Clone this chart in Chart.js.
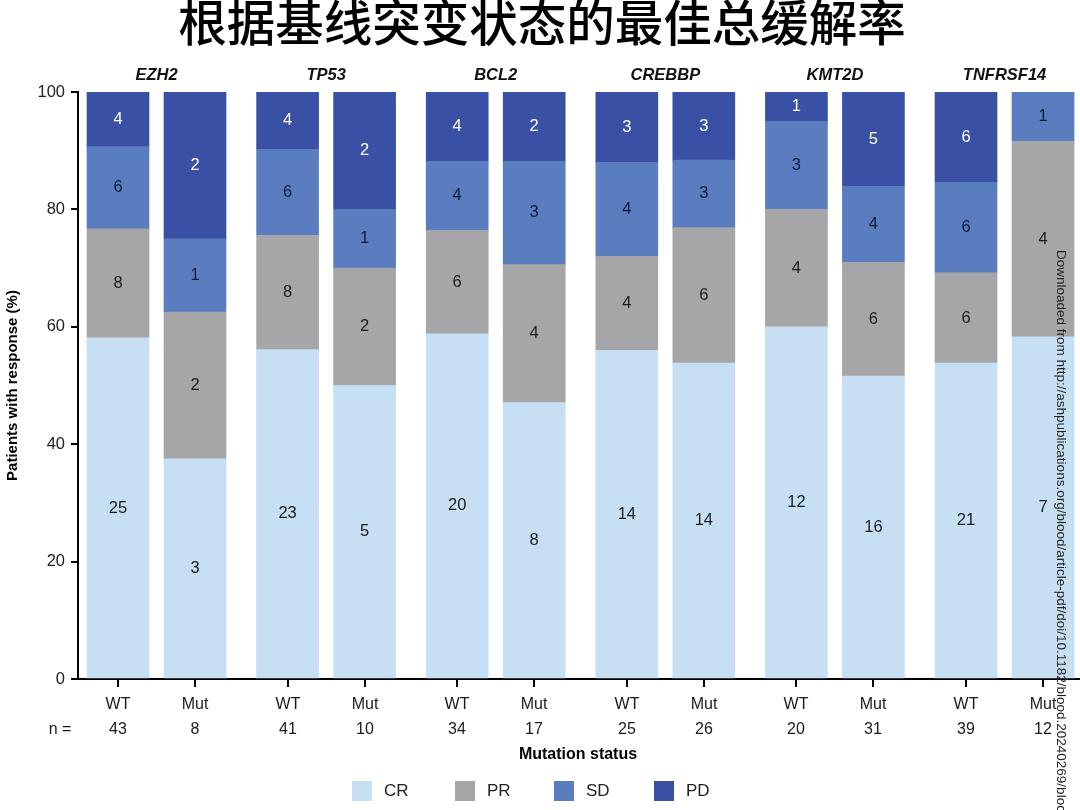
<!DOCTYPE html>
<html>
<head>
<meta charset="utf-8">
<script src="https://cdn.jsdelivr.net/npm/chart.js@4.4.1/dist/chart.umd.min.js"></script>
<style>
  html, body { margin: 0; padding: 0; background: #ffffff; overflow: hidden; }
  #wrap { position: relative; width: 1080px; height: 810px; }
</style>
</head>
<body>
<div id="wrap"><canvas id="c" width="1080" height="810"></canvas></div>
<script>
// ---------- data ----------
const titleText = '根据基线突变状态的最佳总缓解率';
const genes = ['EZH2', 'TP53', 'BCL2', 'CREBBP', 'KMT2D', 'TNFRSF14'];
const statuses = ['WT', 'Mut', 'WT', 'Mut', 'WT', 'Mut', 'WT', 'Mut', 'WT', 'Mut', 'WT', 'Mut'];
const nValues = [43, 8, 41, 10, 34, 17, 25, 26, 20, 31, 39, 12];
const seriesNames = ['CR', 'PR', 'SD', 'PD'];

// percentages (%)
const crPct = [58.1, 37.5, 56.1, 50.0, 58.8, 47.1, 56.0, 53.8, 60.0, 51.6, 53.8, 58.3];
const prPct = [18.6, 25.0, 19.5, 20.0, 17.6, 23.5, 16.0, 23.1, 20.0, 19.4, 15.4, 33.3];
const sdPct = [14.0, 12.5, 14.6, 10.0, 11.8, 17.6, 16.0, 11.5, 15.0, 12.9, 15.4, 8.4];
const pdPct = [9.3, 25.0, 9.8, 20.0, 11.8, 11.8, 12.0, 11.6, 5.0, 16.1, 15.4, 0];

// patient counts shown inside segments
const crCount = [25, 3, 23, 5, 20, 8, 14, 14, 12, 16, 21, 7];
const prCount = [8, 2, 8, 2, 6, 4, 4, 6, 4, 6, 6, 4];
const sdCount = [6, 1, 6, 1, 4, 3, 4, 3, 3, 4, 6, 1];
const pdCount = [4, 2, 4, 2, 4, 2, 3, 3, 1, 5, 6, 0];

const yTicks = [0, 20, 40, 60, 80, 100];
const watermark = 'Downloaded from http://ashpublications.org/blood/article-pdf/doi/10.1182/blood.20240269/bloc';

// ---------- styling / layout ----------
const colors = ['#c6dff2', '#a6a6a8', '#5a7dc0', '#3a50a4'];
const labelColors = ['#1a1a1a', '#1a1a1a', '#0f1d3a', '#ffffff'];
const FONT = '"Liberation Sans", Arial, Helvetica, sans-serif';
const MUT_OFFSET = 0.454;   // position of Mut bar within a gene group (group units)

function xPos(i) { return Math.floor(i / 2) + (i % 2) * MUT_OFFSET; }
function pts(arr) { return arr.map((v, i) => ({ x: xPos(i), y: v })); }

const pctSeries = [crPct, prPct, sdPct, pdPct];
const cntSeries = [crCount, prCount, sdCount, pdCount];

const datasets = seriesNames.map((name, k) => ({
  label: name,
  data: pts(pctSeries[k]),
  backgroundColor: colors[k],
  borderWidth: 0,
  barThickness: 62
}));

const annotate = {
  id: 'annotate',
  afterDatasetsDraw(chart) {
    const ctx = chart.ctx;
    ctx.save();
    ctx.font = '16.5px ' + FONT;
    ctx.textAlign = 'center';
    ctx.textBaseline = 'middle';
    chart.data.datasets.forEach((ds, k) => {
      const meta = chart.getDatasetMeta(k);
      meta.data.forEach((bar, i) => {
        const c = cntSeries[k][i];
        if (!c) return;
        const p = bar.getProps(['x', 'y', 'base'], true);
        ctx.fillStyle = labelColors[k];
        ctx.fillText(String(c), p.x, (p.y + p.base) / 2);
      });
    });
    ctx.restore();
  },
  afterDraw(chart) {
    const ctx = chart.ctx;
    const xs = chart.scales.x;
    const area = chart.chartArea;
    ctx.save();
    // title
    ctx.fillStyle = '#000';
    ctx.textAlign = 'center';
    ctx.textBaseline = 'middle';
    ctx.font = '500 48.5px "Noto Sans CJK SC", sans-serif';
    ctx.fillText(titleText, 542, 23);

    // gene labels
    ctx.fillStyle = '#111';
    ctx.font = 'italic bold 16.5px ' + FONT;
    genes.forEach((g, j) => {
      const cx = (xs.getPixelForValue(xPos(2 * j)) + xs.getPixelForValue(xPos(2 * j + 1))) / 2;
      ctx.fillText(g, cx, 75);
    });

    // x tick marks and labels
    ctx.strokeStyle = '#000';
    ctx.lineWidth = 2;
    ctx.font = '16px ' + FONT;
    ctx.fillStyle = '#1a1a1a';
    statuses.forEach((s, i) => {
      const px = Math.round(xs.getPixelForValue(xPos(i)));
      ctx.beginPath();
      ctx.moveTo(px, area.bottom);
      ctx.lineTo(px, area.bottom + 8);
      ctx.stroke();
      ctx.fillText(s, px, 705);
      ctx.fillText(String(nValues[i]), px, 730);
    });
    ctx.fillText('n =', 60, 730);

    // x axis title
    ctx.font = 'bold 16px ' + FONT;
    ctx.fillStyle = '#000';
    ctx.fillText('Mutation status', 578, 755);

    // y axis title
    ctx.save();
    ctx.translate(13, (area.top + area.bottom) / 2);
    ctx.rotate(-Math.PI / 2);
    ctx.font = 'bold 15px ' + FONT;
    ctx.fillText('Patients with response (%)', 0, 0);
    ctx.restore();

    // legend
    ctx.font = '17px ' + FONT;
    ctx.textAlign = 'left';
    const legX = [352, 455, 554, 654];
    chart.data.datasets.forEach((ds, k) => {
      ctx.fillStyle = ds.backgroundColor;
      ctx.fillRect(legX[k], 781, 20, 20);
      ctx.fillStyle = '#222';
      ctx.fillText(ds.label, legX[k] + 32, 791);
    });

    // watermark
    ctx.save();
    ctx.translate(1061, 250);
    ctx.rotate(Math.PI / 2);
    ctx.font = '13.5px ' + FONT;
    ctx.fillStyle = '#222';
    ctx.textAlign = 'left';
    ctx.fillText(watermark, 0, 0);
    ctx.restore();

    ctx.restore();
  }
};

new Chart(document.getElementById('c'), {
  type: 'bar',
  data: { datasets },
  plugins: [annotate],
  options: {
    responsive: false,
    animation: false,
    events: [],
    layout: { padding: { left: 0, right: 0, top: 92, bottom: 131 } },
    plugins: { legend: { display: false }, tooltip: { enabled: false }, title: { display: false } },
    scales: {
      x: {
        type: 'linear',
        stacked: true,
        offset: false,
        min: -0.2358,
        max: 5.672,
        ticks: { display: false },
        grid: { display: false, offset: false },
        border: { display: true, color: '#000', width: 2 },
        afterFit(scale) { scale.height = 0; }
      },
      y: {
        stacked: true,
        min: 0,
        max: 100,
        afterBuildTicks(scale) { scale.ticks = yTicks.map(v => ({ value: v })); },
        ticks: { color: '#222', padding: 6, font: { size: 16.5, family: FONT } },
        grid: { display: true, drawOnChartArea: false, drawTicks: true, tickLength: 7, color: '#000', lineWidth: 2 },
        border: { display: true, color: '#000', width: 2 },
        afterFit(scale) { scale.width = 78; }
      }
    }
  }
});
</script>
</body>
</html>
